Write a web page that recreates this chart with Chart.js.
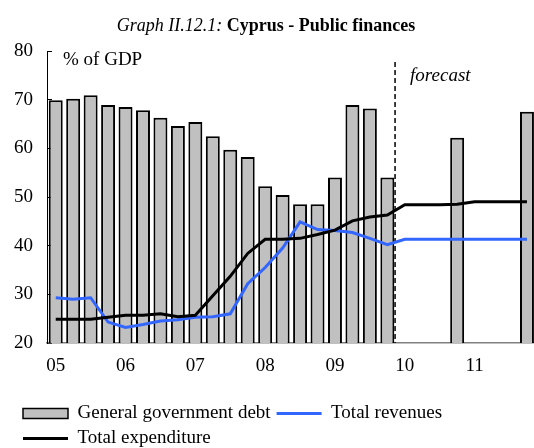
<!DOCTYPE html>
<html>
<head>
<meta charset="utf-8">
<script src="https://cdn.jsdelivr.net/npm/chart.js@4"></script>
<style>
  html, body { margin: 0; padding: 0; background: #fff; overflow: hidden; }
  #wrap { width: 539px; height: 458px; }
</style>
</head>
<body>
<div id="wrap"><canvas id="cyprusChart"></canvas></div>
<script>
// Quarterly observations, 2005Q1 - 2011Q4 (forecast from 2010)
const quarters = [
  '05Q1', '05Q2', '05Q3', '05Q4', '06Q1', '06Q2', '06Q3', '06Q4',
  '07Q1', '07Q2', '07Q3', '07Q4', '08Q1', '08Q2', '08Q3', '08Q4',
  '09Q1', '09Q2', '09Q3', '09Q4', '10Q1', '10Q2', '10Q3', '10Q4',
  '11Q1', '11Q2', '11Q3', '11Q4'
];
const yearLabels = ['05', '06', '07', '08', '09', '10', '11'];

// % of GDP
const debt = [69.9, 70.2, 70.9, 68.9, 68.5, 67.8, 66.3, 64.6, 65.4, 62.5, 59.7, 58.2, 52.2, 50.4,
              48.5, 48.5, 54.0, 68.9, 68.2, 54.0, null, null, null, 62.2, null, null, null, 67.5];
const revenues = [29.3, 29.0, 29.3, 24.3, 23.2, 23.8, 24.5, 24.8, 25.3, 25.4, 26.0, 32.2, 35.5, 39.5,
                  44.9, 43.3, 43.1, 42.7, 41.5, 40.2, 41.3, 41.3, 41.3, 41.3, 41.3, 41.3, 41.3, 41.3];
const expenditure = [24.9, 24.9, 24.9, 25.3, 25.7, 25.7, 26.0, 25.4, 25.7, 29.7, 33.7, 38.4, 41.3, 41.3,
                     41.5, 42.3, 43.2, 45.1, 45.9, 46.3, 48.4, 48.4, 48.4, 48.5, 49.0, 49.0, 49.0, 49.0];

const forecastStart = 20; // index of 10Q1

const serif = '"Liberation Serif", "Times New Roman", serif';
Chart.defaults.font.family = serif;
Chart.defaults.font.size = 19;
Chart.defaults.color = '#000';

// title, unit label, forecast divider; legend nudged right of the padding edge
const decorations = {
  id: 'decorations',
  afterLayout(chart) {
    if (chart.legend) {
      chart.legend.left += 12;
      chart.legend.right += 12;
    }
  },
  beforeDatasetsDraw(chart) {
    const { ctx, chartArea, scales: { x } } = chart;
    const xDiv = (x.getPixelForValue(forecastStart - 1) + x.getPixelForValue(forecastStart)) / 2 - 1;
    ctx.save();
    ctx.strokeStyle = '#000';
    ctx.lineWidth = 1.5;
    ctx.setLineDash([5, 3]);
    ctx.beginPath();
    ctx.moveTo(xDiv, chartArea.top + 11);
    ctx.lineTo(xDiv, chartArea.bottom);
    ctx.stroke();
    ctx.restore();
  },
  afterDraw(chart) {
    const { ctx, chartArea, scales: { x } } = chart;
    ctx.save();
    ctx.fillStyle = '#000';
    ctx.textBaseline = 'alphabetic';

    const partA = 'Graph II.12.1: ';
    const partB = 'Cyprus - Public finances';
    ctx.font = 'italic 18px ' + serif;
    const wA = ctx.measureText(partA).width;
    ctx.font = 'bold 18px ' + serif;
    const wB = ctx.measureText(partB).width;
    const x0 = 266 - (wA + wB) / 2;
    ctx.font = 'italic 18px ' + serif;
    ctx.fillText(partA, x0, 31);
    ctx.font = 'bold 18px ' + serif;
    ctx.fillText(partB, x0 + wA, 31);

    ctx.font = '19px ' + serif;
    ctx.fillText('% of GDP', chartArea.left + 16, chartArea.top + 14);

    const xDiv = (x.getPixelForValue(forecastStart - 1) + x.getPixelForValue(forecastStart)) / 2;
    ctx.font = 'italic 19px ' + serif;
    ctx.fillText('forecast', xDiv + 14, chartArea.top + 30);
    ctx.restore();
  }
};

new Chart(document.getElementById('cyprusChart'), {
  data: {
    labels: quarters,
    datasets: [
      {
        type: 'bar',
        label: 'General government debt',
        data: debt,
        backgroundColor: '#c0c0c0',
        borderColor: '#000',
        borderWidth: 2,
        borderSkipped: false,
        barPercentage: 0.8,
        categoryPercentage: 1,
        order: 3
      },
      {
        type: 'line',
        label: 'Total revenues',
        data: revenues,
        borderColor: '#3366ff',
        borderWidth: 3,
        pointRadius: 0,
        tension: 0,
        order: 2
      },
      {
        type: 'line',
        label: 'Total expenditure',
        data: expenditure,
        borderColor: '#000',
        borderWidth: 3,
        pointRadius: 0,
        tension: 0,
        order: 1
      }
    ]
  },
  options: {
    responsive: true,
    maintainAspectRatio: false,
    animation: false,
    layout: { padding: { left: 5, right: 2, top: 51, bottom: 0 } },
    scales: {
      x: {
        type: 'category',
        offset: true,
        grid: { display: false, drawTicks: false },
        border: { display: true, color: '#808080', width: 1.5 },
        ticks: {
          autoSkip: false,
          maxRotation: 0,
          padding: 12,
          font: { size: 19 },
          callback: (value, index) => (index % 4 === 0 ? yearLabels[index / 4] : '')
        },
        afterFit(scale) { scale.height = 55; }
      },
      y: {
        min: 20,
        max: 80,
        // tick marks point into the plot
        ticks: { stepSize: 10, padding: 19, font: { size: 19 } },
        grid: { drawOnChartArea: false, drawTicks: true, tickLength: -5, color: '#000' },
        border: { display: true, color: '#000', width: 1 },
        afterFit(scale) { scale.width = 42; }
      }
    },
    plugins: {
      tooltip: { enabled: false },
      legend: {
        position: 'bottom',
        align: 'start',
        labels: {
          usePointStyle: true,
          pointStyleWidth: 45,
          boxHeight: 10,
          padding: 6,
          font: { size: 19 },
          generateLabels(chart) {
            return chart.data.datasets.map((ds, i) => ({
              text: ds.label,
              datasetIndex: i,
              fillStyle: ds.type === 'bar' ? ds.backgroundColor : ds.borderColor,
              strokeStyle: ds.borderColor,
              lineWidth: ds.type === 'bar' ? 1.5 : 3,
              pointStyle: ds.type === 'bar' ? 'rect' : 'line',
              hidden: false,
              fontColor: '#000'
            }));
          }
        }
      }
    }
  },
  plugins: [decorations]
});
</script>
</body>
</html>
